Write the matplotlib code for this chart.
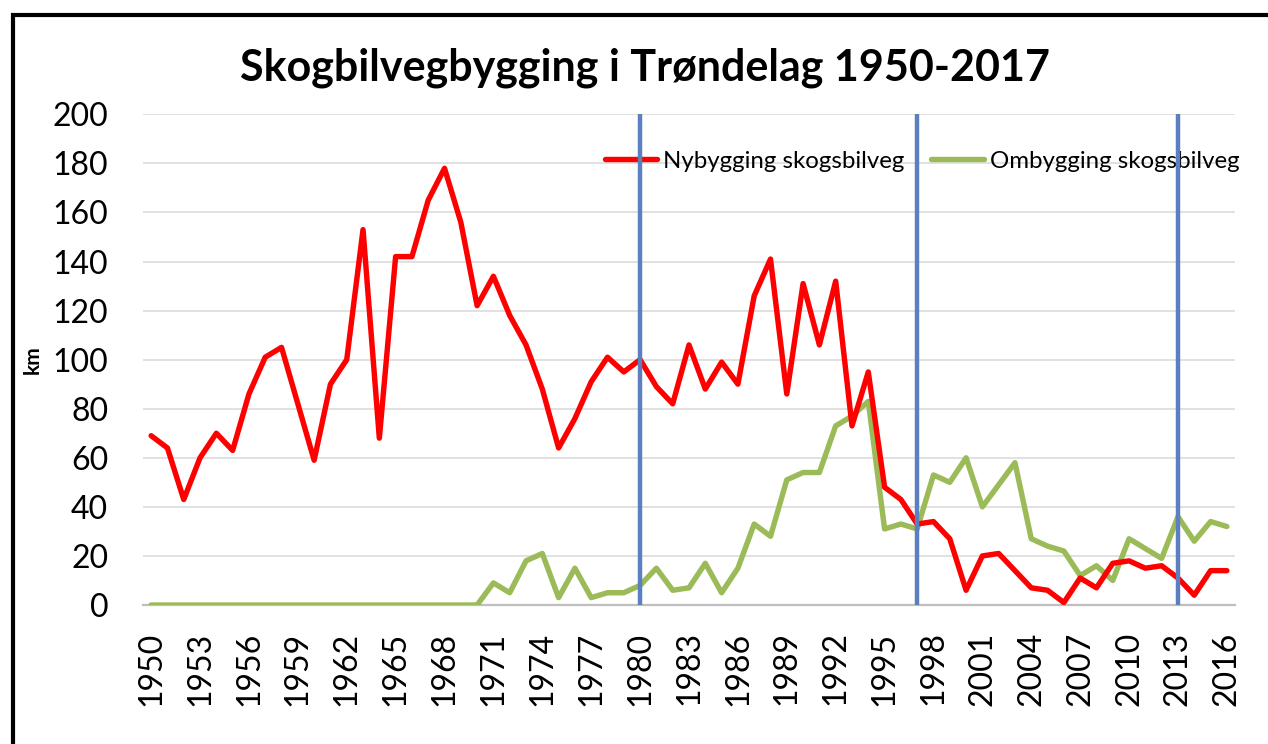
import matplotlib
matplotlib.use("Agg")
import matplotlib.pyplot as plt
from matplotlib.patches import Rectangle

plt.rcParams['font.family'] = ['Lato', 'DejaVu Sans']

years = list(range(1950, 2017))
nybygging = [69, 64, 43, 60, 70, 63, 86, 101, 105, 82,
             59, 90, 100, 153, 68, 142, 142, 165, 178, 156,
             122, 134, 118, 106, 88, 64, 76, 91, 101, 95,
             100, 89, 82, 106, 88, 99, 90, 126, 141, 86,
             131, 106, 132, 73, 95, 48, 43, 33, 34, 27,
             6, 20, 21, 14, 7, 6, 1, 11, 7, 17,
             18, 15, 16, 11, 4, 14, 14]
ombygging = [0, 0, 0, 0, 0, 0, 0, 0, 0, 0,
             0, 0, 0, 0, 0, 0, 0, 0, 0, 0,
             0, 9, 5, 18, 21, 3, 15, 3, 5, 5,
             8, 15, 6, 7, 17, 5, 15, 33, 28, 51,
             54, 54, 73, 77, 83, 31, 33, 31, 53, 50,
             60, 40, 49, 58, 27, 24, 22, 12, 16, 10,
             27, 23, 19, 36, 26, 34, 32]
marker_years = [1980, 1997, 2013]
tick_years = list(range(1950, 2017, 3))
yticks = list(range(0, 201, 20))

title = "Skogbilvegbygging i Trøndelag 1950-2017"
label_ny = "Nybygging skogsbilveg"
label_om = "Ombygging skogsbilveg"

W, H = 1268, 744
fig = plt.figure(figsize=(W / 100, H / 100), dpi=100)
fig.patch.set_facecolor('white')

left, right, top, bottom = 143, 1235, 114.3, 605
ax = fig.add_axes([left / W, 1 - bottom / H, (right - left) / W, (bottom - top) / H])

x = list(range(len(years)))
ax.plot(x, nybygging, color='#FF0000', lw=3.9, solid_joinstyle='round',
        solid_capstyle='round', label=label_ny, zorder=4)
ax.plot(x, ombygging, color='#9BBB59', lw=3.9, solid_joinstyle='round',
        solid_capstyle='round', label=label_om, zorder=3)

for yr in marker_years:
    ax.axvline(years.index(yr), color='#5B7FBF', lw=3.2, zorder=10)

ax.set_xlim(-0.5, len(years) - 0.5)
ax.set_ylim(0, 200)
ax.set_yticks(yticks)
ax.set_yticklabels([str(v) for v in yticks], fontsize=23)
ax.set_xticks([years.index(t) for t in tick_years])
ax.set_xticklabels([str(t) for t in tick_years], rotation=90, fontsize=23,
                   ha='center', va='top')
ax.tick_params(axis='y', length=0, pad=25)
ax.tick_params(axis='x', length=0, pad=19)

ax.grid(axis='y', color='#D9D9D9', lw=1.1, zorder=0)
ax.set_axisbelow(True)
for s in ['left', 'top', 'right']:
    ax.spines[s].set_visible(False)
ax.spines['bottom'].set_color('#BFBFBF')
ax.spines['bottom'].set_linewidth(1.6)
ax.spines['bottom'].set_zorder(2)

ax.set_ylabel('km', fontsize=15, fontweight='bold')
ax.yaxis.set_label_coords((43 - left) / (right - left), 0.5)

leg = ax.legend(loc='center left',
                bbox_to_anchor=((605 - left) / (right - left), (bottom - 161) / (bottom - top)),
                ncol=2, frameon=False, fontsize=17.3, handlelength=2.17,
                handletextpad=0.25, columnspacing=1.12, borderpad=0, borderaxespad=0)
leg.set_zorder(5)

fig.text(645 / W, 1 - 68 / H, title, ha='center', va='center',
         fontsize=31, fontweight='bold')

fig.patches.append(Rectangle((13 / W, -0.5), 2.0, 1.5 - 14.5 / H,
                             transform=fig.transFigure, fill=False,
                             edgecolor='black', lw=3.0, clip_on=False))

fig.savefig('out.png', dpi=100)
